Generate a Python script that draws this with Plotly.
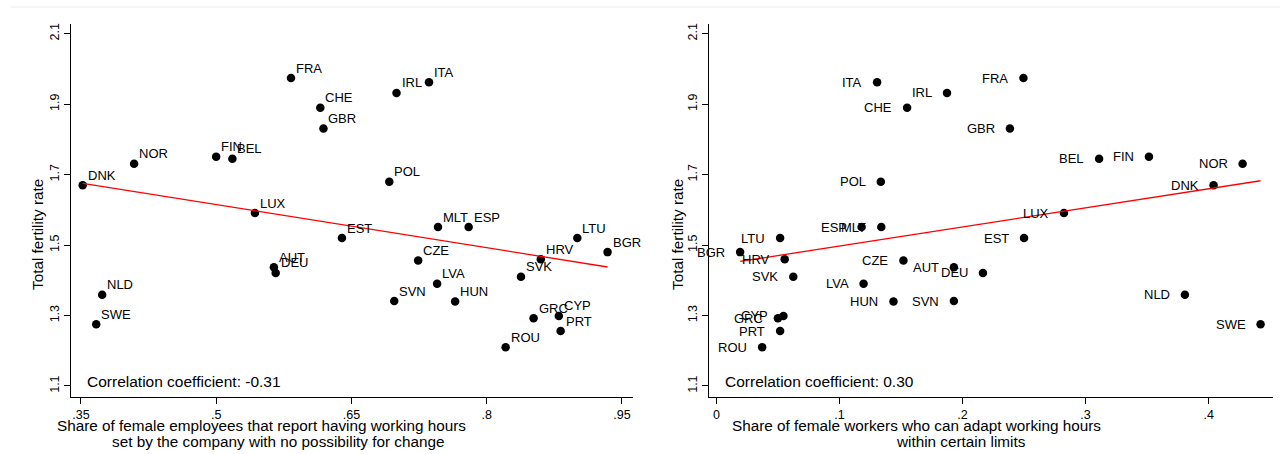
import numpy as np
import plotly.graph_objects as go

# ---------------- data ----------------
countries = ["DNK", "NOR", "FIN", "BEL", "FRA", "CHE", "GBR", "IRL", "ITA", "POL",
             "LUX", "EST", "MLT", "ESP", "LTU", "BGR", "HRV", "CZE", "AUT", "DEU",
             "SVK", "LVA", "NLD", "SVN", "HUN", "GRC", "CYP", "PRT", "ROU", "SWE"]
tfr = [1.670, 1.731, 1.751, 1.745, 1.974, 1.890, 1.831, 1.932, 1.962, 1.680,
       1.591, 1.520, 1.551, 1.551, 1.520, 1.480, 1.460, 1.456, 1.437, 1.421,
       1.410, 1.390, 1.359, 1.341, 1.340, 1.292, 1.299, 1.256, 1.210, 1.275]
fixed_hours = [0.352, 0.409, 0.500, 0.518, 0.583, 0.6155, 0.619, 0.700, 0.736, 0.692,
               0.543, 0.6395, 0.746, 0.780, 0.9005, 0.934, 0.860, 0.724, 0.564, 0.566,
               0.838, 0.745, 0.3736, 0.6975, 0.765, 0.852, 0.880, 0.882, 0.821, 0.367]
adapt_hours = [0.404, 0.4276, 0.3515, 0.311, 0.2495, 0.155, 0.2385, 0.1874, 0.1306, 0.1336,
               0.2824, 0.250, 0.134, 0.118, 0.0518, 0.0193, 0.0555, 0.152, 0.193, 0.2166,
               0.0625, 0.1196, 0.3807, 0.193, 0.1439, 0.050, 0.0545, 0.0518, 0.0372, 0.4422]

y_ticks = [1.1, 1.3, 1.5, 1.7, 1.9, 2.1]
y_ticktext = ["1.1", "1.3", "1.5", "1.7", "1.9", "2.1"]
x1_ticks = [0.35, 0.5, 0.65, 0.8, 0.95]
x1_ticktext = [".35", ".5", ".65", ".8", ".95"]
x2_ticks = [0, 0.1, 0.2, 0.3, 0.4]
x2_ticktext = ["0", ".1", ".2", ".3", ".4"]

corr_left = "Correlation coefficient: -0.31"
corr_right = "Correlation coefficient: 0.30"
y_title = "Total fertility rate"
x1_title = ["Share of female employees that report having working hours",
            "set by the company with no possibility for change"]
x2_title = ["Share of female workers who can adapt working hours",
            "within certain limits"]

# ---------------- layout geometry ----------------
W, H = 1280, 454
FONT = "Liberation Sans, Arial, sans-serif"


def px(x):
    return x / W


def py(y):
    return 1 - y / H


fig = go.Figure()

# scatter points
fig.add_trace(go.Scatter(x=fixed_hours, y=tfr, mode="markers", xaxis="x", yaxis="y",
                         marker=dict(color="black", size=8.5), hoverinfo="skip"))
fig.add_trace(go.Scatter(x=adapt_hours, y=tfr, mode="markers", xaxis="x2", yaxis="y2",
                         marker=dict(color="black", size=8.5), hoverinfo="skip"))

# fitted lines
for xs, xa, ya in [(fixed_hours, "x", "y"), (adapt_hours, "x2", "y2")]:
    xs_arr = np.array(xs)
    b, a = np.polyfit(xs_arr, np.array(tfr), 1)
    xl = np.array([xs_arr.min(), xs_arr.max()])
    fig.add_trace(go.Scatter(x=xl, y=a + b * xl, mode="lines", xaxis=xa, yaxis=ya,
                             line=dict(color="#ff0000", width=1.3), hoverinfo="skip"))

annotations = []
# labels for points
for c, xv, yv in zip(countries, fixed_hours, tfr):
    annotations.append(dict(x=xv, y=yv, xref="x", yref="y", text=c, showarrow=False,
                            xanchor="left", yanchor="middle", xshift=3, yshift=10,
                            font=dict(family=FONT, size=13, color="black")))
for c, xv, yv in zip(countries, adapt_hours, tfr):
    annotations.append(dict(x=xv, y=yv, xref="x2", yref="y2", text=c, showarrow=False,
                            xanchor="right", yanchor="middle", xshift=-13, yshift=0,
                            font=dict(family=FONT, size=13, color="black")))

# correlation texts
annotations.append(dict(x=px(85), y=py(381), xref="paper", yref="paper", text=corr_left,
                        showarrow=False, xanchor="left", yanchor="middle",
                        font=dict(family=FONT, size=15.5, color="black")))
annotations.append(dict(x=px(723), y=py(381), xref="paper", yref="paper", text=corr_right,
                        showarrow=False, xanchor="left", yanchor="middle",
                        font=dict(family=FONT, size=15.5, color="black")))

# axis titles
for xc in (37, 677):
    annotations.append(dict(x=px(xc), y=py(235), xref="paper", yref="paper", text=y_title,
                            showarrow=False, textangle=-90, xanchor="center", yanchor="middle",
                            font=dict(family=FONT, size=15.3, color="black")))
for (txt, xc, yc) in [(x1_title[0], 261, 425), (x1_title[1], 278, 441),
                      (x2_title[0], 916, 425), (x2_title[1], 961, 441)]:
    annotations.append(dict(x=px(xc), y=py(yc), xref="paper", yref="paper", text=txt,
                            showarrow=False, xanchor="center", yanchor="middle",
                            font=dict(family=FONT, size=15.3, color="black")))

common_axis = dict(showgrid=False, zeroline=False, showline=True, linecolor="black",
                   linewidth=1, ticks="outside", ticklen=6, tickwidth=1, tickcolor="black",
                   tickfont=dict(family=FONT, size=12.5, color="black"), mirror=False)

fig.update_layout(
    width=W, height=H,
    margin=dict(l=0, r=0, t=0, b=0),
    paper_bgcolor="white", plot_bgcolor="white",
    showlegend=False,
    annotations=annotations,
    shapes=[dict(type="line", xref="paper", yref="paper", x0=px(10), x1=1, y0=py(7), y1=py(7),
                 line=dict(color="#ececec", width=1))],
    xaxis=dict(domain=[px(70.7), px(632.7)], range=[0.3387, 0.9619], anchor="y",
               tickvals=x1_ticks, ticktext=x1_ticktext, **common_axis),
    yaxis=dict(domain=[py(396.7), py(24.3)], range=[1.0696, 2.1267], anchor="x",
               tickvals=y_ticks, ticktext=y_ticktext, tickangle=-90, **common_axis),
    xaxis2=dict(domain=[px(709), px(1273)], range=[-0.006, 0.4523], anchor="y2",
                tickvals=x2_ticks, ticktext=x2_ticktext, **common_axis),
    yaxis2=dict(domain=[py(396.7), py(24.3)], range=[1.0696, 2.1267], anchor="x2",
                tickvals=y_ticks, ticktext=y_ticktext, tickangle=-90, **common_axis),
)

fig.write_html("out.html", config={"displayModeBar": False},
               post_script="document.body.style.margin='0';document.body.style.overflow='hidden';")
